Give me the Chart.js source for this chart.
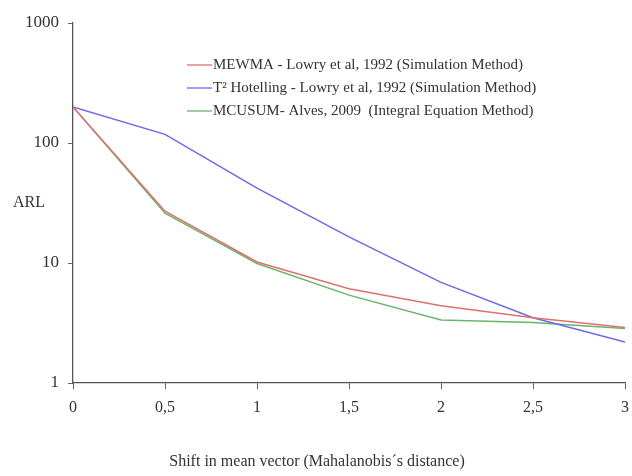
<!DOCTYPE html>
<html>
<head>
<meta charset="utf-8">
<script src="https://cdn.jsdelivr.net/npm/chart.js@4.4.0/dist/chart.umd.min.js"></script>
<style>
    html, body { margin: 0; padding: 0; background: #fff; }
    #wrap { width: 632px; height: 476px; position: relative; }
</style>
</head>
<body>
<div id="wrap"><canvas id="arlChart"></canvas></div>
<script>
// Chart data
const shifts = [0, 0.5, 1, 1.5, 2, 2.5, 3];
const xTickLabels = ['0', '0,5', '1', '1,5', '2', '2,5', '3'];
const yTickValues = [1, 10, 100, 1000];
const mewma = [200, 27, 10.2, 6.1, 4.4, 3.5, 2.9];
const hotelling = [200, 118, 42, 16.5, 6.9, 3.5, 2.2];
const mcusum = [200, 26, 9.9, 5.4, 3.35, 3.2, 2.85];

const serif = "'Liberation Serif', 'Times New Roman', serif";

function points(values) {
    return shifts.map((s, i) => ({ x: s, y: values[i] }));
}

// Legend drawn inside the plot, axis titles drawn by hand
const extras = {
    id: 'extras',
    afterDraw(chart) {
        const ctx = chart.ctx;
        ctx.save();
        ctx.font = '15px ' + serif;
        ctx.fillStyle = '#333';
        ctx.textBaseline = 'middle';
        chart.data.datasets.forEach((ds, i) => {
            const y = 65 + i * 23;
            ctx.strokeStyle = ds.borderColor;
            ctx.lineWidth = 1.3;
            ctx.beginPath();
            ctx.moveTo(187, y);
            ctx.lineTo(212, y);
            ctx.stroke();
            ctx.fillText(ds.label, 213, y);
        });
        ctx.font = '16px ' + serif;
        ctx.textAlign = 'center';
        ctx.fillText('ARL', 29, chart.chartArea.top + (chart.chartArea.bottom - chart.chartArea.top) / 2);
        ctx.fillText('Shift in mean vector (Mahalanobis´s distance)', 317, 462);
        ctx.restore();
    }
};

const ctx = document.getElementById('arlChart').getContext('2d');
new Chart(ctx, {
    type: 'line',
    data: {
        datasets: [
            {
                label: 'MEWMA - Lowry et al, 1992 (Simulation Method)',
                data: points(mewma),
                borderColor: '#e07070',
                borderWidth: 1.5,
                pointRadius: 0,
                tension: 0
            },
            {
                label: 'T² Hotelling - Lowry et al, 1992 (Simulation Method)',
                data: points(hotelling),
                borderColor: '#6a6aea',
                borderWidth: 1.5,
                pointRadius: 0,
                tension: 0
            },
            {
                label: 'MCUSUM- Alves, 2009  (Integral Equation Method)',
                data: points(mcusum),
                borderColor: '#6ab46a',
                borderWidth: 1.5,
                pointRadius: 0,
                tension: 0
            }
        ]
    },
    options: {
        responsive: true,
        maintainAspectRatio: false,
        animation: false,
        layout: {
            padding: { top: 23, right: 7, left: 0, bottom: 0 }
        },
        plugins: {
            legend: { display: false },
            tooltip: { enabled: false }
        },
        scales: {
            x: {
                type: 'linear',
                min: 0,
                max: 3,
                afterBuildTicks(scale) {
                    scale.ticks = shifts.map(v => ({ value: v }));
                },
                afterFit(scale) {
                    scale.height = 93;
                    scale.paddingLeft = 0;
                    scale.paddingRight = 0;
                },
                border: { color: '#555', width: 1.3 },
                grid: {
                    drawOnChartArea: false,
                    drawTicks: true,
                    tickLength: 6,
                    color: '#666'
                },
                ticks: {
                    padding: 9,
                    color: '#333',
                    font: { family: serif, size: 16 },
                    callback: (v) => xTickLabels[shifts.indexOf(v)]
                }
            },
            y: {
                type: 'logarithmic',
                min: 1,
                max: 1000,
                afterBuildTicks(scale) {
                    scale.ticks = yTickValues.map(v => ({ value: v }));
                },
                afterFit(scale) {
                    scale.width = 73;
                    scale.paddingTop = 0;
                    scale.paddingBottom = 0;
                },
                border: { color: '#555', width: 1.3 },
                grid: {
                    drawOnChartArea: false,
                    drawTicks: true,
                    tickLength: 5,
                    color: '#666'
                },
                ticks: {
                    padding: 9,
                    color: '#333',
                    font: { family: serif, size: 17 },
                    callback: (v) => String(v)
                }
            }
        }
    },
    plugins: [extras]
});
</script>
</body>
</html>
